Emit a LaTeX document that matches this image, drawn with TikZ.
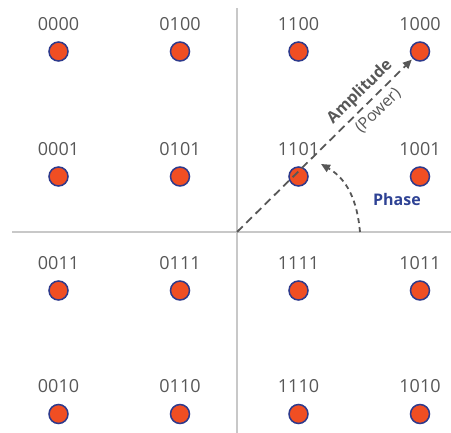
\documentclass[tikz,border=0pt]{standalone}
\usepackage{fontspec}
\setmainfont{Open Sans}
\usetikzlibrary{positioning,arrows.meta}

\definecolor{dotred}{HTML}{F04E23}
\definecolor{dotblue}{HTML}{2E3A8C}
\definecolor{lblgray}{HTML}{575757}
\definecolor{axisgray}{HTML}{C8C8C8}
\definecolor{phaseblue}{HTML}{2E4294}

\begin{document}
\begin{tikzpicture}[x=1pt,y=1pt,inner sep=0pt,outer sep=0pt,
symbol/.style={draw=dotblue,fill=dotred,circle,minimum size=19pt,line width=1.5pt},
bits/.style={text=lblgray,font=\fontsize{18}{18}\selectfont},
axis/.style={draw=axisgray,line width=1.8pt},
amp/.style={draw=lblgray,line width=1.8pt,dash pattern=on 8pt off 5pt},
turn/.style={draw=lblgray,line width=1.8pt,dash pattern=on 5pt off 4pt}]

\useasboundingbox (0,0) rectangle (451,433);

% axes
\coordinate (o) at (237,201);
\draw[axis] (12,201) -- (451,201);
\draw[axis] (237,0) -- (237,425);

% constellation points
\draw (58.5,381.5) node[symbol] (s0000) {};
\draw (180,381.5) node[symbol] (s0100) {};
\draw (298.5,381.5) node[symbol] (s1100) {};
\draw (420,381.5) node[symbol] (s1000) {};
\draw (58.5,256.5) node[symbol] (s0001) {};
\draw (180,256.5) node[symbol] (s0101) {};
\draw (298.5,256.5) node[symbol] (s1101) {};
\draw (420,256.5) node[symbol] (s1001) {};
\draw (58.5,142.5) node[symbol] (s0011) {};
\draw (180,142.5) node[symbol] (s0111) {};
\draw (298.5,142.5) node[symbol] (s1111) {};
\draw (420,142.5) node[symbol] (s1011) {};
\draw (58.5,19) node[symbol] (s0010) {};
\draw (180,19) node[symbol] (s0110) {};
\draw (298.5,19) node[symbol] (s1110) {};
\draw (420,19) node[symbol] (s1010) {};

% bit labels
\node[bits,above=11.5pt of s0000] (l0000) {0000};
\node[bits,above=11.5pt of s0100] (l0100) {0100};
\node[bits,above=11.5pt of s1100] (l1100) {1100};
\node[bits,above=11.5pt of s1000] (l1000) {1000};
\node[bits,above=11.5pt of s0001] (l0001) {0001};
\node[bits,above=11.5pt of s0101] (l0101) {0101};
\node[bits,above=11.5pt of s1101] (l1101) {1101};
\node[bits,above=11.5pt of s1001] (l1001) {1001};
\node[bits,above=11.5pt of s0011] (l0011) {0011};
\node[bits,above=11.5pt of s0111] (l0111) {0111};
\node[bits,above=11.5pt of s1111] (l1111) {1111};
\node[bits,above=11.5pt of s1011] (l1011) {1011};
\node[bits,above=11.5pt of s0010] (l0010) {0010};
\node[bits,above=11.5pt of s0110] (l0110) {0110};
\node[bits,above=11.5pt of s1110] (l1110) {1110};
\node[bits,above=11.5pt of s1010] (l1010) {1010};

% amplitude vector
\draw[amp,-{Triangle[length=9pt,width=8pt]},shorten >=2pt] (o) -- (s1000)
  node[sloped,pos=.75,above=5pt,text=lblgray,font=\fontsize{16}{16}\selectfont\bfseries] (amplitude) {Amplitude}
  node[sloped,pos=.75,below=6pt,text=lblgray,font=\fontsize{16}{16}\selectfont] (power) {(Power)};

% phase angle
\coordinate (ph0) at (360,201);
\coordinate (ph1) at (321,269);
\draw[turn,-{Triangle[length=9pt,width=8pt]}] (ph0) to[out=95,in=-30] (ph1);
\node[text=phaseblue,font=\fontsize{16}{16}\selectfont\bfseries] (phase) at (397,233) {Phase};
\end{tikzpicture}
\end{document}
